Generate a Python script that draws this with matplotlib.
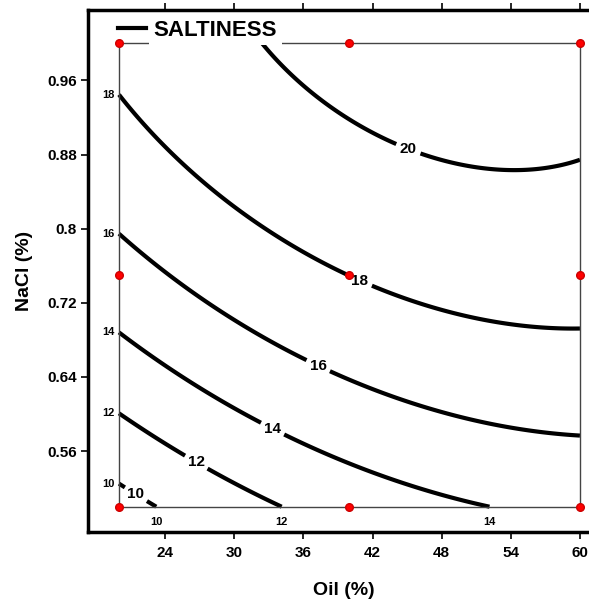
import numpy as np
import matplotlib
matplotlib.use('Agg')
import matplotlib.pyplot as plt

plt.rcParams['font.family'] = ['Liberation Sans', 'DejaVu Sans']
plt.rcParams['font.weight'] = 'bold'

# design points (red dots)
oil_levels = [20, 40, 60]
nacl_levels = [0.5, 0.75, 1.0]

levels = [10, 12, 14, 16, 18, 20]

# points (oil %, NaCl %)
oil_10 = [20.1, 22.95]
nacl_10 = [0.526, 0.501]
oil_12 = [20.1, 22.1, 25.0, 27.9, 30.8, 34.0]
nacl_12 = [0.599, 0.581, 0.561, 0.540, 0.521, 0.502]
oil_14 = [20.1, 22.1, 25.0, 27.9, 30.8, 36.6, 39.4, 42.9, 45.9, 48.7, 52.2]
nacl_14 = [0.685, 0.667, 0.645, 0.623, 0.602, 0.567, 0.548, 0.532, 0.518, 0.509, 0.500]
oil_16 = [20.1, 22.1, 25.0, 27.9, 30.8, 33.7, 36.3, 39.4, 41.8, 45.9, 48.7, 51.6, 54.5, 57.4, 60.0]
nacl_16 = [0.793, 0.769, 0.745, 0.720, 0.698, 0.674, 0.658, 0.640, 0.628, 0.612, 0.601, 0.590, 0.584, 0.580, 0.578]
oil_18 = [20.1, 22.1, 25.0, 27.9, 30.8, 33.7, 36.6, 39.4, 41.5, 45.9, 48.7, 51.6, 54.5, 57.4, 60.0]
nacl_18 = [0.944, 0.917, 0.877, 0.845, 0.817, 0.791, 0.769, 0.752, 0.741, 0.719, 0.710, 0.701, 0.696, 0.693, 0.693]
oil_20 = [32.4, 33.7, 36.6, 39.4, 41.8, 46.1, 48.7, 51.6, 54.5, 57.4, 60.0]
nacl_20 = [1.0, 0.982, 0.946, 0.920, 0.904, 0.882, 0.872, 0.865, 0.863, 0.867, 0.875]

# contour label positions
label_pos = [(21.6, 0.516), (26.8, 0.550), (33.4, 0.586), (37.4, 0.655), (40.8, 0.741), (45.2, 0.889)]

# quadratic response surface fitted to the traced contour points
pts_x = np.concatenate([oil_10, oil_12, oil_14, oil_16, oil_18, oil_20])
pts_y = np.concatenate([nacl_10, nacl_12, nacl_14, nacl_16, nacl_18, nacl_20])
pts_z = np.concatenate([np.full(len(o), l) for o, l in
                        zip([oil_10, oil_12, oil_14, oil_16, oil_18, oil_20], levels)])

def design(x, y):
    return np.column_stack([np.ones_like(x), x, y, x * y, x ** 2, y ** 2])

coef, *_ = np.linalg.lstsq(design(pts_x, pts_y), pts_z, rcond=None)

gx = np.linspace(min(oil_levels), max(oil_levels), 300)
gy = np.linspace(min(nacl_levels), max(nacl_levels), 300)
X, Y = np.meshgrid(gx, gy)
Z = (design(X.ravel(), Y.ravel()) @ coef).reshape(X.shape)

fig = plt.figure(figsize=(5.89, 6.02), dpi=100)
ax = fig.add_axes([88 / 589, 1 - 532 / 602, 512 / 589, 522.5 / 602])

cs = ax.contour(X, Y, Z, levels=levels, colors='black', linewidths=3)
labels = ax.clabel(cs, levels, inline=True, fmt='%d', fontsize=11, manual=label_pos, inline_spacing=6)
for t in labels:
    t.set_rotation(0)

# small labels where contours leave the design region
for lev in levels:
    if Z[0, 0] <= lev <= Z[-1, 0]:
        yl = np.interp(lev, Z[:, 0], gy)
        ax.text(min(oil_levels) - 0.4, yl, str(lev), ha='right', va='center', fontsize=8)
    if Z[0, 0] <= lev <= Z[0, -1]:
        xl = np.interp(lev, Z[0, :], gx)
        ax.text(xl, min(nacl_levels) - 0.016, str(lev), ha='center', va='center', fontsize=8)

# design region box + design points
x0, x1 = min(oil_levels), max(oil_levels)
y0, y1 = min(nacl_levels), max(nacl_levels)
ax.plot([x0, x1, x1, x0, x0], [y0, y0, y1, y1, y0], color='#444444', lw=1, zorder=3)
DX, DY = np.meshgrid(oil_levels, nacl_levels)
ax.plot(DX.ravel(), DY.ravel(), 'o', color='red', ms=5.5, mec='#cc0000', zorder=6, clip_on=False)

ax.set_xlim(17.31, 61.74)
ax.set_ylim(0.4727, 1.0365)
ax.set_xticks([24, 30, 36, 42, 48, 54, 60])
ax.set_yticks([0.56, 0.64, 0.72, 0.8, 0.88, 0.96])
ax.set_yticklabels(['0.56', '0.64', '0.72', '0.8', '0.88', '0.96'])
ax.tick_params(axis='both', direction='out', length=5, width=1.2, labelsize=11, pad=3)
ax.tick_params(axis='x', top=True, labeltop=False, pad=5)
for s in ax.spines.values():
    s.set_linewidth(2.5)

ax.set_xlabel('Oil (%)', fontsize=14, fontweight='bold', labelpad=16)
ax.set_ylabel('NaCl (%)', fontsize=14, fontweight='bold', labelpad=10)

h, = ax.plot([], [], color='black', lw=3)
leg = ax.legend([h], ['SALTINESS'], loc='upper left', bbox_to_anchor=(30 / 512, 1 - 10 / 522.5),
                frameon=False, fontsize=16, handlelength=1.25, handletextpad=0.35,
                borderpad=0, borderaxespad=0)
leg.get_texts()[0].set_bbox(dict(facecolor='white', edgecolor='none', pad=3.5))
leg.set_zorder(10)

fig.savefig('out.png', dpi=100)
